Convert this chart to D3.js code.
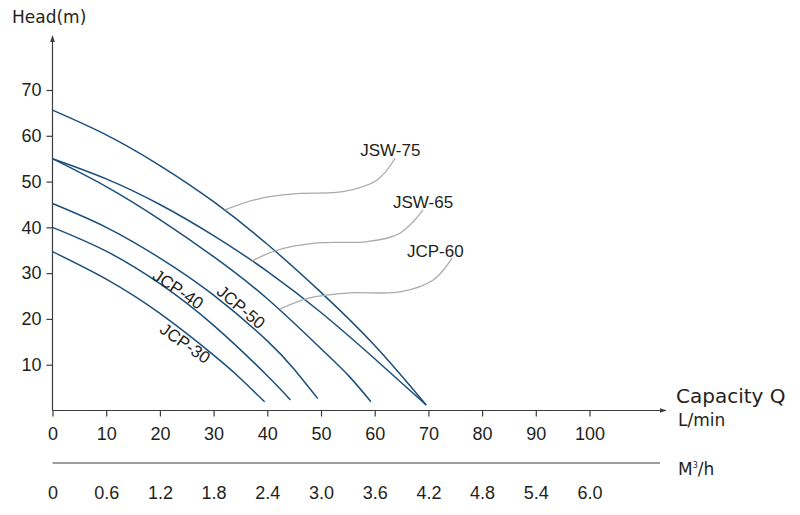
<!DOCTYPE html>
<html>
<head>
<meta charset="utf-8">
<script src="https://cdn.jsdelivr.net/npm/d3@7/dist/d3.min.js"></script>
<style>
    body { margin: 0; background: #fff; }
    svg text { font-family: "Liberation Sans", Arial, sans-serif; fill: #231f20; }
    .curve { fill: none; stroke: #1b4f7a; stroke-width: 1.5; }
    .leader { fill: none; stroke: #aaaaaa; stroke-width: 1.3; }
    .axis-line { stroke: #3c3c3c; stroke-width: 1.2; }
</style>
</head>
<body>
<svg id="chart" width="800" height="515"></svg>
<script>
// tick values / labels
const flowTicks = [0, 10, 20, 30, 40, 50, 60, 70, 80, 90, 100];
const m3hLabels = ["0", "0.6", "1.2", "1.8", "2.4", "3.0", "3.6", "4.2", "4.8", "5.4", "6.0"];
const headTicks = [10, 20, 30, 40, 50, 60, 70];

// pump curves, capacity in L/min, head in m
const seriesNames = ["JSW-75", "JSW-65", "JCP-60", "JCP-50", "JCP-40", "JCP-30"];
const jsw75Q = [0, 10, 20, 30, 40, 50, 60, 69.6];
const jsw75H = [65.6, 60.2, 53.5, 45.6, 36.3, 25.8, 14.2, 1.2];
const jsw65Q = [0, 10, 20, 30, 40, 50, 60, 69.6];
const jsw65H = [55, 50.6, 45, 38.2, 30.4, 21.4, 11.3, 1.2];
const jcp60Q = [0, 10, 20, 30, 40, 50, 55.3, 59.3];
const jcp60H = [55, 48.9, 41.7, 33.6, 24.4, 13.5, 7.4, 1.9];
const jcp50Q = [0, 10, 20, 30, 40, 45, 49.4];
const jcp50H = [45.2, 40.0, 33.3, 25.2, 15.2, 9.0, 2.6];
const jcp40Q = [0, 10, 20, 30, 40, 44.3];
const jcp40H = [40, 34.8, 27.7, 18.6, 7.6, 2.3];
const jcp30Q = [0, 10, 20, 30, 35, 39.5];
const jcp30H = [34.7, 28.7, 21.2, 12.1, 7.0, 1.9];

// grey call-out lines for the upper three curves (data units)
const leaderQ = [
    [63.8, 60.4, 54.1, 46.1, 38.6, 32.1],
    [69.0, 64.7, 58.6, 49.3, 41.8, 37.2],
    [74.4, 70.9, 64.7, 55.4, 47.9, 42.4]
];
const leaderH = [
    [55.1, 50.3, 47.8, 47.4, 46.3, 43.8],
    [43.8, 38.7, 36.9, 36.6, 35.0, 32.7],
    [33.3, 28.5, 25.9, 25.7, 24.6, 22.2]
];

const seriesQ = [jsw75Q, jsw65Q, jcp60Q, jcp50Q, jcp40Q, jcp30Q];
const seriesH = [jsw75H, jsw65H, jcp60H, jcp50H, jcp40H, jcp30H];

const svg = d3.select("#chart");

const x = d3.scaleLinear().domain([0, 100]).range([52.5, 589.5]);
const y = d3.scaleLinear().domain([0, 70]).range([410.5, 90]);

// arrow marker
svg.append("defs").append("marker")
    .attr("id", "arrow")
    .attr("viewBox", "0 0 10 10")
    .attr("refX", 9).attr("refY", 5)
    .attr("markerWidth", 7).attr("markerHeight", 7)
    .attr("markerUnits", "userSpaceOnUse")
    .attr("orient", "auto")
    .append("path").attr("d", "M0,1.5L10,5L0,8.5Z").attr("fill", "#3c3c3c");

// y axis
svg.append("line").attr("class", "axis-line")
    .attr("x1", x(0)).attr("y1", y(0))
    .attr("x2", x(0)).attr("y2", 36)
    .attr("marker-end", "url(#arrow)");

const yAxis = svg.append("g")
    .attr("transform", `translate(${x(0)},0)`)
    .call(d3.axisLeft(y).tickValues(headTicks).tickSize(6).tickPadding(5));
yAxis.select(".domain").remove();
yAxis.selectAll("line").attr("stroke", "#3c3c3c").attr("stroke-width", 1.2);
yAxis.selectAll("text").style("font-size", "18px").style("fill", "#231f20");

// x axis (L/min)
svg.append("line").attr("class", "axis-line")
    .attr("x1", x(0)).attr("y1", y(0))
    .attr("x2", 666).attr("y2", y(0))
    .attr("marker-end", "url(#arrow)");

const xAxis = svg.append("g")
    .attr("transform", `translate(0,${y(0)})`)
    .call(d3.axisBottom(x).tickValues(flowTicks).tickSize(6).tickPadding(11));
xAxis.select(".domain").remove();
xAxis.selectAll("line").attr("stroke", "#3c3c3c").attr("stroke-width", 1.2);
xAxis.selectAll("text").style("font-size", "18px").style("fill", "#231f20");

// second axis (m3/h)
svg.append("line").attr("class", "axis-line")
    .attr("x1", x(0)).attr("y1", 463)
    .attr("x2", 660).attr("y2", 463);

const x2Axis = svg.append("g")
    .attr("transform", "translate(0,463)")
    .call(d3.axisBottom(x).tickValues(flowTicks).tickSize(0).tickPadding(23)
        .tickFormat((d, i) => m3hLabels[i]));
x2Axis.select(".domain").remove();
x2Axis.selectAll("text").style("font-size", "18px").style("fill", "#231f20");

// axis titles
svg.append("text").attr("x", 12).attr("y", 23)
    .style("font-family", "DejaVu Sans").style("font-size", "17px")
    .text("Head(m)");
svg.append("text").attr("x", 676).attr("y", 403)
    .style("font-family", "DejaVu Sans").style("font-size", "20px")
    .text("Capacity Q");
svg.append("text").attr("x", 678).attr("y", 426)
    .style("font-family", "DejaVu Sans").style("font-size", "17px")
    .text("L/min");
const m3 = svg.append("text").attr("x", 678).attr("y", 475)
    .style("font-family", "DejaVu Sans").style("font-size", "17px");
m3.append("tspan").text("M");
m3.append("tspan").attr("dy", -7).style("font-size", "8px").text("3");
m3.append("tspan").attr("dy", 7).text("/h");

// pump curves
const line = d3.line()
    .x((d) => x(d[0]))
    .y((d) => y(d[1]))
    .curve(d3.curveNatural);

seriesNames.forEach((name, i) => {
    const pts = seriesQ[i].map((q, j) => [q, seriesH[i][j]]);
    svg.append("path").attr("class", "curve").attr("d", line(pts));
});

// call-outs
const leaderLine = d3.line()
    .x((d) => x(d[0]))
    .y((d) => y(d[1]))
    .curve(d3.curveCatmullRom.alpha(0.5));

leaderQ.forEach((qs, i) => {
    const pts = qs.map((q, j) => [q, leaderH[i][j]]);
    svg.append("path").attr("class", "leader").attr("d", leaderLine(pts));
});

// curve names
const calloutPos = [[57.3, 55.5], [63.4, 44.3], [66.0, 33.6]];
calloutPos.forEach((p, i) => {
    svg.append("text")
        .attr("x", x(p[0])).attr("y", y(p[1]))
        .style("font-size", "17px")
        .text(seriesNames[i]);
});

// names written along the lower curves
const inlinePos = [[35.1, 22.6, 40], [23.4, 26.5, 34], [24.7, 14.7, 35]];
inlinePos.forEach((p, i) => {
    svg.append("text")
        .attr("transform", `translate(${x(p[0])},${y(p[1])}) rotate(${p[2]})`)
        .attr("text-anchor", "middle")
        .attr("dy", "0.35em")
        .style("font-size", "17px")
        .text(seriesNames[i + 3]);
});
</script>
</body>
</html>
